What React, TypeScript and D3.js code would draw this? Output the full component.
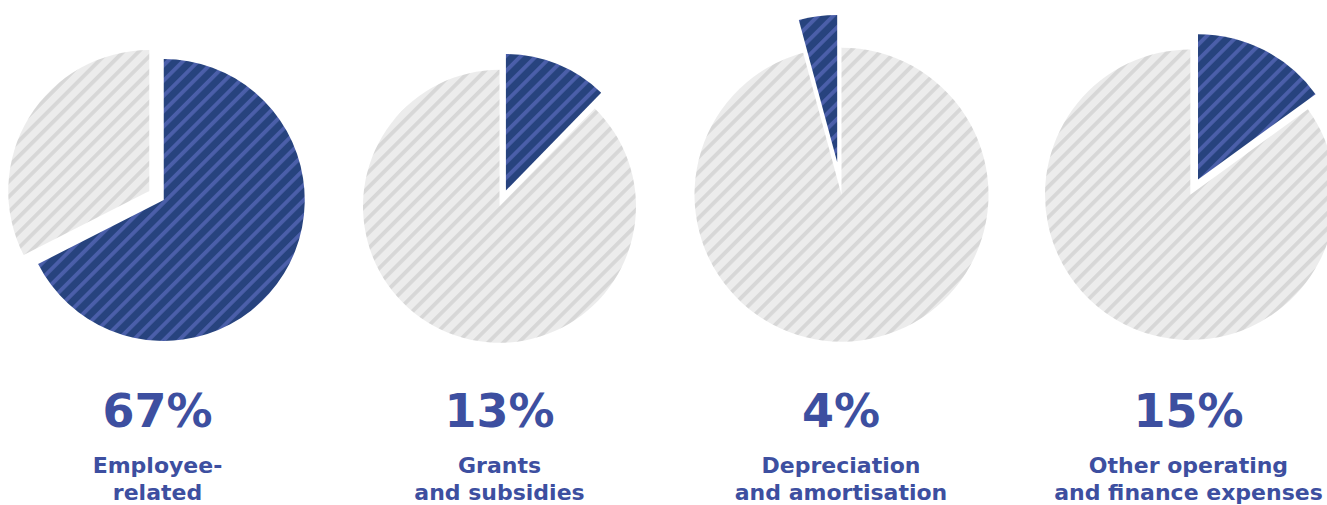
import React from "react";
import * as d3 from "d3";

// ---- data ----
const categories = [
  "Employee-related",
  "Grants and subsidies",
  "Depreciation and amortisation",
  "Other operating and finance expenses",
];
const labelLines = [
  ["Employee-", "related"],
  ["Grants", "and subsidies"],
  ["Depreciation", "and amortisation"],
  ["Other operating", "and finance expenses"],
];
// slice sizes as drawn
const shares = [67.5, 12.3, 4.2, 15];
const valueLabels = ["67%", "13%", "4%", "15%"];

// ---- layout ----
const W = 1327;
const H = 505;
const layout = [
  { cx: 156.5, cy: 195.5, r: 141, shareOff: 8.5, restOff: 8.5, shareBeforeTop: false },
  { cx: 499.5, cy: 206.3, r: 136.5, shareOff: 17, restOff: 0, shareBeforeTop: false },
  { cx: 841.5, cy: 194.7, r: 147, shareOff: 33, restOff: 0, shareBeforeTop: true },
  { cx: 1190.3, cy: 194.7, r: 145.3, shareOff: 17, restOff: 0, shareBeforeTop: false },
];
const labelX = [157.5, 499.5, 841, 1188.5];

const TEXT = "#3d4fa0";
const FONT = "'DejaVu Sans', sans-serif";
const P = 10.8; // stripe period
const SW = 3.8; // stripe width

type Slice = { key: string; value: number };

export default function App() {
  return (
    <svg
      width={W}
      height={H}
      style={{ position: "absolute", left: 0, top: 0, background: "#fff" }}
    >
      <defs>
        <pattern
          id="blueStripe"
          patternUnits="userSpaceOnUse"
          width={P}
          height={P}
          patternTransform="rotate(45)"
        >
          <rect width={P} height={P} fill="#27437e" />
          <rect width={SW} height={P} fill="#4b5faa" />
        </pattern>
        <pattern
          id="grayStripe"
          patternUnits="userSpaceOnUse"
          width={P}
          height={P}
          patternTransform="rotate(45)"
        >
          <rect width={P} height={P} fill="#ececec" />
          <rect width={SW} height={P} fill="#d7d7d7" />
        </pattern>
      </defs>
      {shares.map((s, i) => {
        const L = layout[i];
        const frac = s / 100;
        const start = L.shareBeforeTop ? -frac * 2 * Math.PI : 0;
        const pie = d3
          .pie<Slice>()
          .value((d) => d.value)
          .sort(null)
          .startAngle(start)
          .endAngle(start + 2 * Math.PI);
        const arcs = pie([
          { key: "share", value: s },
          { key: "rest", value: 100 - s },
        ]);
        const arc = d3.arc<d3.PieArcDatum<Slice>>().innerRadius(0).outerRadius(L.r);
        return (
          <g key={categories[i]}>
            {arcs.map((a) => {
              const mid = (a.startAngle + a.endAngle) / 2;
              const off = a.data.key === "share" ? L.shareOff : L.restOff;
              const dx = Math.sin(mid) * off;
              const dy = -Math.cos(mid) * off;
              return (
                <path
                  key={a.data.key}
                  d={arc(a) || ""}
                  transform={`translate(${L.cx + dx},${L.cy + dy})`}
                  fill={a.data.key === "share" ? "url(#blueStripe)" : "url(#grayStripe)"}
                />
              );
            })}
            <text
              x={labelX[i]}
              y={427}
              textAnchor="middle"
              fontFamily={FONT}
              fontWeight={700}
              fontSize={46}
              fill={TEXT}
            >
              {valueLabels[i]}
            </text>
            {labelLines[i].map((line, j) => (
              <text
                key={j}
                x={labelX[i]}
                y={473 + j * 27}
                textAnchor="middle"
                fontFamily={FONT}
                fontWeight={700}
                fontSize={22}
                fill={TEXT}
              >
                {line}
              </text>
            ))}
          </g>
        );
      })}
    </svg>
  );
}
